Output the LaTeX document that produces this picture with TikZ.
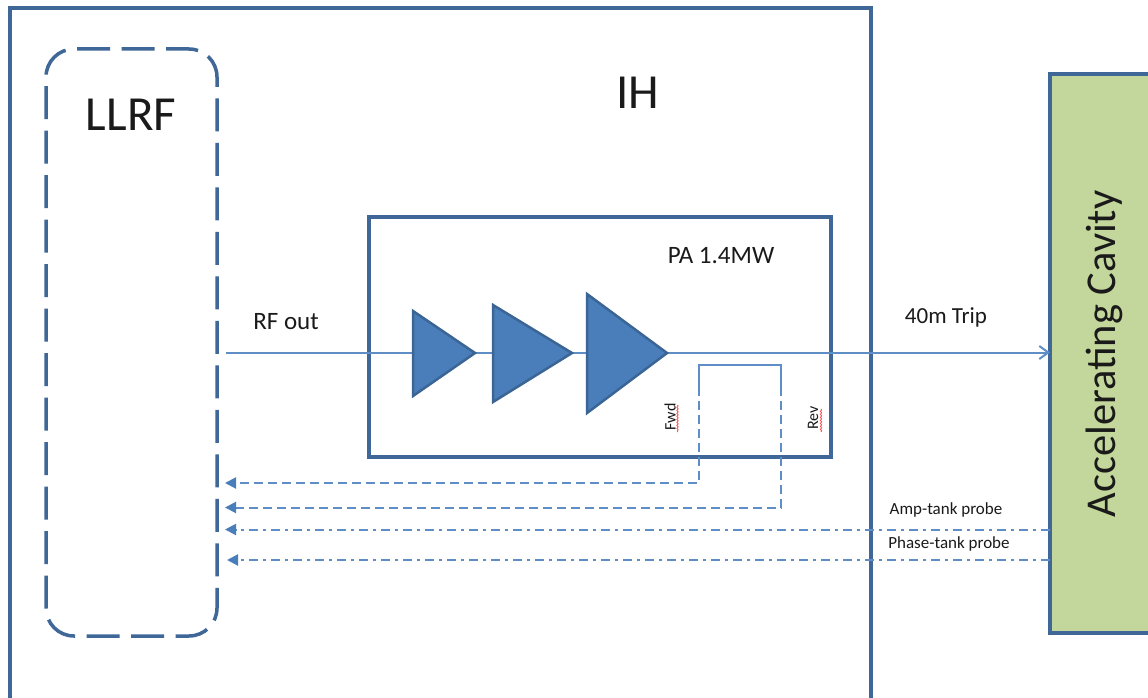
\documentclass[tikz,border=0pt]{standalone}
\usepackage{fontspec}
\setmainfont{Carlito}
\usetikzlibrary{arrows.meta,decorations.pathmorphing}
\definecolor{boxblue}{HTML}{3F6797}
\definecolor{wireblue}{HTML}{5F8DC6}
\definecolor{trifill}{HTML}{4A7EBB}
\definecolor{tristroke}{HTML}{3A6595}
\definecolor{cavgreen}{HTML}{C3D69B}
\definecolor{txt}{HTML}{1A1A1A}
\tikzset{
  boxnode/.style={draw=boxblue,line width=3.5pt,inner sep=0pt,outer sep=0pt,anchor=north west},
  wire/.style={draw=wireblue,line width=2pt},
  sensedash/.style={wire,dash pattern=on 9pt off 5pt},
  sensedot/.style={wire,dash pattern=on 9pt off 5pt on 3pt off 5pt},
  tiparrow/.style={-{Triangle[length=11pt,width=11pt,fill=trifill,color=trifill]}},
  amp/.style={fill=trifill,draw=tristroke,line width=2.5pt,line join=miter},
  lab/.style={text=txt,inner sep=0pt,outer sep=0pt},
  squiggle/.style={draw=red!70!white,line width=.8pt,decorate,decoration={snake,amplitude=.7pt,segment length=3pt}}
}
\begin{document}
\begin{tikzpicture}[x=1pt,y=-1pt]
\useasboundingbox (0,0) rectangle (1148,698);
\clip (0,0) rectangle (1148,698);
\fill[white] (0,0) rectangle (1148,698);
% boxes
\node[boxnode,minimum width=861pt,minimum height=800pt] (ih) at (10,8) {};
\node[boxnode,minimum width=462pt,minimum height=240pt] (pa) at (369,217) {};
\node[boxnode,fill=cavgreen,minimum width=200pt,minimum height=559pt] (cav) at (1050,74) {};
\node[boxnode,rounded corners=28pt,dash pattern=on 33pt off 11.5pt,dash phase=10pt,minimum width=171pt,minimum height=587pt] (llrf) at (46,49) {};
% anchor coordinates
\coordinate (rfstart) at (226,352.5);
\coordinate (rfend) at (cav.west |- rfstart);
\coordinate (fwdtop) at (699,365);
\coordinate (revtop) at (781,365);
\coordinate (fwdmid) at (699,387);
\coordinate (revmid) at (781,387);
\coordinate (fwdbot) at (699,483);
\coordinate (revbot) at (781,507.5);
\coordinate (fwdtip) at (225,483);
\coordinate (revtip) at (225,507.5);
\coordinate (ampcav) at (1050,529.5);
\coordinate (phcav) at (1050,560);
\coordinate (amptip) at (225,529.5);
\coordinate (phtip) at (227,560);
% main RF line
\draw[wire,-{Straight Barb[length=9pt,width=13pt]}] (rfstart) -- (rfend);
% amplifiers
\draw[amp] (413,311) coordinate (t1a) -- (475,353) coordinate (t1) -- (413,396) -- cycle;
\draw[amp] (493,305) coordinate (t2a) -- (572,353) coordinate (t2) -- (493,402) -- cycle;
\draw[amp] (587,294) coordinate (t3a) -- (667,353) coordinate (t3) -- (587,413) -- cycle;
% coupler
\draw[wire] (fwdmid) -- (fwdtop) -- (revtop) -- (revmid);
\draw[sensedash,tiparrow] (fwdmid) -- (fwdbot) -- (fwdtip);
\draw[sensedash,tiparrow] (revmid) -- (revbot) -- (revtip);
\draw[sensedot,tiparrow] (ampcav) -- (amptip);
\draw[sensedot,tiparrow] (phcav) -- (phtip);
% labels
\node[lab,font=\fontsize{49}{49}\selectfont] (llrftxt) at (131,115) {LLRF};
\node[lab,font=\fontsize{49}{49}\selectfont] (ihtxt) at (637.5,93) {IH};
\node[lab,font=\fontsize{25}{25}\selectfont] (rftxt) at (286,322) {RF out};
\node[lab,font=\fontsize{25}{25}\selectfont] (patxt) at (721,256) {PA 1.4MW};
\node[lab,font=\fontsize{23}{23}\selectfont] (triptxt) at (946,317) {40m Trip};
\node[lab,font=\fontsize{17}{17}\selectfont] (amptxt) at (946,510) {Amp-tank probe};
\node[lab,font=\fontsize{17}{17}\selectfont] (phtxt) at (949,543.5) {Phase-tank probe};
\node[lab,font=\fontsize{16}{16}\selectfont,rotate=90] (fwdtxt) at (670,417) {Fwd};
\node[lab,font=\fontsize{16}{16}\selectfont,rotate=90] (revtxt) at (813,418) {Rev};
\node[lab,font=\fontsize{42.5}{42.5}\selectfont,rotate=90] (cavtxt) at (1104,354) {Accelerating Cavity};
% spelling marks
\path[squiggle] (677.5,405) -- (677.5,432);
\path[squiggle] (821,409) -- (821,432);
\end{tikzpicture}
\end{document}
